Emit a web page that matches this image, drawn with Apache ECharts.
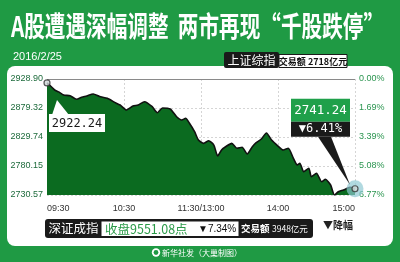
<!DOCTYPE html>
<html><head><meta charset="utf-8">
<script src="https://cdn.jsdelivr.net/npm/echarts@6/dist/echarts.min.js"></script>
<style>html,body{margin:0;padding:0;background:#1f9a44}#c{width:400px;height:262px}</style>
</head><body><div id="c"></div>
<script>
// ---- data ----
const minutes = [0,3,6,9,13,18,23,27,31,36,41,47,54,57,62,67,71,76,82,86,90,96,101,105,108,111,115,118,122,126,130,133,136,140,144,148,152,156,160,163,167,171,175,180,184,188,192,195,197,200,204,206,210,214,217,221,224,227,231,234,236,240];
const values = [2922.24,2916.5,2910.1,2906.8,2901.5,2900.3,2894.2,2897.6,2899.8,2903.3,2899.0,2895.9,2887.4,2884.4,2875.9,2882.7,2884.4,2890.1,2881.5,2871.3,2879.3,2877.6,2864.4,2858.8,2861.7,2853.2,2838.8,2824.6,2818.9,2823.4,2816.0,2797.2,2807.5,2814.3,2818.9,2810.4,2812.1,2800.7,2813.1,2820.0,2826.3,2836.6,2824.6,2814.3,2807.5,2810.4,2793.3,2781.9,2784.8,2770.4,2776.2,2761.9,2767.7,2753.3,2757.4,2747.7,2730.57,2736.2,2739.1,2742.0,2743.7,2741.24];
const prevClose = 2928.90;
const dayLow = 2730.57;
const leftTicks = ['2730.57','2780.15','2829.74','2879.32','2928.90'];
const rightTicks = ['6.77%','5.08%','3.39%','1.69%','0.00%'];
const xTicks = ['09:30','10:30','11:30/13:00','14:00','15:00'];
const openLabel = '2922.24';
const closeLabel = '2741.24';
const dropLabel = '▼6.41%';
const titleText = 'A股遭遇深幅调整  两市再现“千股跌停”';
const dateText = '2016/2/25';
const shTitle = '上证综指';
const shVolume = '交易额 2718亿元';
const szTitle = '深证成指';
const szClose = '收盘9551.08点';
const szDrop = '▼7.34%';
const szVolLabel = '交易额';
const szVolume = '3948亿元';
const legendText = '▼降幅';
const footerText = '新华社发（大巢制图）';

const CJK = '"Noto Sans CJK SC"';
const chart = echarts.init(document.getElementById('c'));

const gridSplit = {show:true, lineStyle:{color:'rgba(150,150,150,0.4)', type:[2,2], width:1}};
chart.setOption({
  backgroundColor:'#1f9a44',
  animation:false,
  grid:{left:47, right:45, top:79, bottom:67},
  xAxis:{type:'value', min:0, max:240, interval:60, z:3,
    axisLine:{show:false}, axisTick:{show:false},
    axisLabel:{formatter:v=>xTicks[Math.round(v/60)], fontSize:9, color:'#333', margin:9,
      fontFamily:'Liberation Sans', alignMinLabel:'left', alignMaxLabel:'right'},
    splitLine:gridSplit},
  yAxis:[
    {type:'value', min:dayLow, max:prevClose, show:false},
    {type:'value', min:0, max:4, interval:1, position:'left', z:3,
      axisLine:{show:false}, axisTick:{show:false},
      axisLabel:{formatter:v=>leftTicks[v], fontSize:9, color:'#1e6b3c', margin:4, fontFamily:'Liberation Sans'},
      splitLine:gridSplit},
    {type:'value', min:0, max:4, interval:1, position:'right',
      axisLine:{show:false}, axisTick:{show:false},
      axisLabel:{formatter:v=>rightTicks[v], fontSize:9, color:'#2b9550', margin:4, fontFamily:'Liberation Sans'},
      splitLine:{show:false}}
  ],
  series:[
    {type:'line', yAxisIndex:0, data:minutes.map((m,i)=>[m,values[i]]), showSymbol:false, smooth:0.2,
      lineStyle:{color:'#111', width:1.6}, areaStyle:{color:'#0b6b20', opacity:1, origin:'start'},
      markLine:{silent:true, symbol:'none', label:{show:false}, lineStyle:{color:'#8a8a8a', type:'solid', width:1.2},
        data:[{yAxis:prevClose}]}},
    {type:'scatter', yAxisIndex:0, clip:false, z:4, data:[[minutes[minutes.length-1], values[values.length-1]]],
      symbolSize:17, itemStyle:{color:'rgba(140,200,210,0.85)'}},
    {type:'scatter', yAxisIndex:0, clip:false, z:5, data:[[minutes[0],values[0]],[minutes[minutes.length-1], values[values.length-1]]],
      symbolSize:6, itemStyle:{color:'#cfd8d8', borderColor:'#333', borderWidth:1.2}}
  ]
});

const p0 = chart.convertToPixel({xAxisIndex:0, yAxisIndex:0}, [minutes[0], values[0]]);
const p1 = chart.convertToPixel({xAxisIndex:0, yAxisIndex:0}, [minutes[minutes.length-1], values[values.length-1]]);

// measure title for horizontal condensing
const cv = document.createElement('canvas').getContext('2d');
cv.font = 'bold 28px ' + CJK;
const tw = cv.measureText(titleText).width;
const tScale = 373 / tw;

chart.setOption({graphic:[
  {type:'rect', z:-10, shape:{x:7, y:66, width:386, height:180, r:8}, style:{fill:'#fff'}},
  {type:'text', x:11, y:26, scaleX:tScale, style:{text:titleText, font:'bold 28px '+CJK, fill:'#fff',
    textVerticalAlign:'middle', shadowColor:'rgba(0,50,15,0.7)', shadowOffsetX:1, shadowOffsetY:1, shadowBlur:1}},
  {type:'text', x:13, y:57, style:{text:dateText, font:'11px "Liberation Sans"', fill:'#fff', textVerticalAlign:'middle'}},
  // SH header
  {type:'rect', z:10, shape:{x:224, y:52, width:55, height:16, r:2}, style:{fill:'#1a1a1a'}},
  {type:'text', z:11, x:251.5, y:60.5, style:{text:shTitle, font:'12px '+CJK, fill:'#fff', textAlign:'center', textVerticalAlign:'middle'}},
  {type:'rect', z:10, shape:{x:279, y:54.5, width:68, height:13}, style:{fill:'#fff', stroke:'#1a1a1a', lineWidth:1}},
  {type:'text', z:11, x:313, y:61.5, style:{text:shVolume, font:'bold 9px '+CJK, fill:'#111', textAlign:'center', textVerticalAlign:'middle'}},
  // open callout
  {type:'polygon', z:20, shape:{points:[[p0[0]+10,p0[1]+17],[p0[0]+5,p0[1]+32],[p0[0]+22,p0[1]+32]]}, style:{fill:'#fff'}},
  {type:'rect', z:20, shape:{x:p0[0]+2, y:p0[1]+31, width:56, height:18}, style:{fill:'#fff'}},
  {type:'text', z:21, x:p0[0]+30, y:p0[1]+40.5, style:{text:openLabel, font:'12px "DejaVu Sans Mono"', fill:'#1a1a1a', textAlign:'center', textVerticalAlign:'middle'}},
  // close callout
  {type:'polygon', z:20, shape:{points:[[p1[0]-37,p1[1]-52],[p1[0]-24,p1[1]-52],[p1[0]-5,p1[1]-4]]}, style:{fill:'#1a1a1a'}},
  {type:'rect', z:20, shape:{x:p1[0]-64, y:p1[1]-90, width:59, height:23}, style:{fill:'#1fa04a'}},
  {type:'text', z:21, x:p1[0]-34.5, y:p1[1]-78.5, style:{text:closeLabel, font:'12.5px "DejaVu Sans Mono"', fill:'#fff', textAlign:'center', textVerticalAlign:'middle'}},
  {type:'rect', z:20, shape:{x:p1[0]-64, y:p1[1]-67, width:59, height:15}, style:{fill:'#1a1a1a'}},
  {type:'text', z:21, x:p1[0]-34.5, y:p1[1]-59.5, style:{text:dropLabel, font:'12px "DejaVu Sans Mono"', fill:'#fff', textAlign:'center', textVerticalAlign:'middle'}},
  // SZ bar
  {type:'rect', z:10, shape:{x:45, y:219, width:268, height:19, r:3}, style:{fill:'#1a1a1a'}},
  {type:'text', z:11, x:73.5, y:228.5, style:{text:szTitle, font:'12.5px '+CJK, fill:'#fff', textAlign:'center', textVerticalAlign:'middle'}},
  {type:'rect', z:10, shape:{x:101.5, y:221.5, width:137, height:14.5}, style:{fill:'#fff'}},
  {type:'text', z:11, x:105, y:229, style:{text:szClose, font:'12.5px '+CJK, fill:'#2a9a48', textVerticalAlign:'middle'}},
  {type:'text', z:11, x:198, y:229, style:{text:szDrop, font:'10px "Liberation Sans"', fill:'#111', textVerticalAlign:'middle'}},
  {type:'text', z:11, x:241, y:228.5, style:{text:szVolLabel, font:'bold 9.5px '+CJK, fill:'#fff', textVerticalAlign:'middle'}},
  {type:'text', z:11, x:272, y:228.5, style:{text:szVolume, font:'8.5px '+CJK, fill:'#fff', textVerticalAlign:'middle'}},
  {type:'text', z:11, x:323, y:225, style:{text:legendText, font:'bold 10px '+CJK, fill:'#222', textVerticalAlign:'middle'}},
  // footer
  {type:'circle', shape:{cx:156, cy:252.5, r:4.2}, style:{fill:'#fff'}},
  {type:'circle', shape:{cx:156, cy:252.5, r:2.4}, style:{fill:'#1f9a44'}},
  {type:'text', x:162, y:252.5, style:{text:footerText, font:'8px '+CJK, fill:'#fff', textVerticalAlign:'middle'}}
]});
</script>
</body></html>
